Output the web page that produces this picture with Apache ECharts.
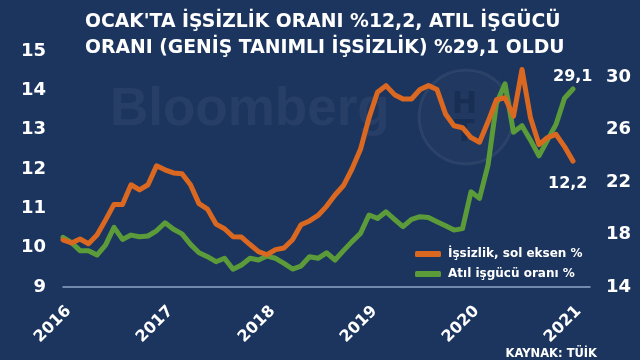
<!DOCTYPE html>
<html>
<head>
<meta charset="utf-8">
<script src="https://cdn.jsdelivr.net/npm/echarts@6/dist/echarts.min.js"></script>
<style>
html,body{margin:0;padding:0;background:#1c355e;}
#c{width:640px;height:360px;}
</style>
</head>
<body>
<div id="c"></div>
<script>
// Year tick labels
const yearLabels = ['2016', '2017', '2018', '2019', '2020', '2021'];
// Monthly categories Jan 2016 .. Mar 2021 (data ends Jan 2021)
const categories = [];
for (let y = 2016; y <= 2021; y++) {
  for (let m = 1; m <= 12; m++) {
    if (y === 2021 && m > 3) break;
    categories.push(y + '-' + (m < 10 ? '0' + m : m));
  }
}
// İşsizlik oranı (sol eksen), %
const unemployment = [
  10.2, 10.12, 10.22, 10.1, 10.32, 10.7, 11.1, 11.1, 11.6, 11.47, 11.6, 12.08,
  11.98, 11.9, 11.88, 11.6, 11.12, 10.98, 10.6, 10.48, 10.28, 10.27, 10.08, 9.9,
  9.82, 9.95, 9.99, 10.2, 10.58, 10.68, 10.82, 11.05, 11.34, 11.58, 12.0, 12.5,
  13.3, 13.95, 14.12, 13.89, 13.78, 13.78, 14.02, 14.12, 14.02, 13.4, 13.1, 13.05,
  12.8, 12.68, 13.2, 13.76, 13.81, 13.34, 14.53, 13.3, 12.62, 12.8, 12.88, 12.57,
  12.2
];
// Atıl işgücü oranı (sağ eksen), %
const underutilization = [
  17.79, 17.38, 16.77, 16.77, 16.44, 17.2, 18.55, 17.63, 17.96, 17.83, 17.89, 18.29,
  18.9, 18.4, 18.05, 17.25, 16.61, 16.31, 15.93, 16.19, 15.35, 15.68, 16.19, 16.06,
  16.36, 16.19, 15.8, 15.37, 15.6, 16.31, 16.19, 16.61, 16.06, 16.77, 17.46, 18.09,
  19.49, 19.23, 19.74, 19.16, 18.6, 19.16, 19.36, 19.3, 18.98, 18.67, 18.34, 18.45,
  21.26, 20.76, 23.3, 28.0, 29.5, 25.8, 26.3, 25.2, 24.0, 25.2, 26.4, 28.4,
  29.1
];
const seriesNames = ['İşsizlik, sol eksen %', 'Atıl işgücü oranı %'];

const FONT = 'DejaVu Sans';
const ORANGE = '#da6820';
const GREEN = '#5c9b39';

const endLabelStyle = {
  show: true,
  formatter: p => String(p.value).replace('.', ','),
  color: '#fff', fontFamily: FONT, fontWeight: 'bold', fontSize: 16
};

const chart = echarts.init(document.getElementById('c'), null, { renderer: 'canvas' });
chart.setOption({
  backgroundColor: '#1c355e',
  animation: false,
  title: {
    text: "OCAK'TA İŞSİZLİK ORANI %12,2, ATIL İŞGÜCÜ\nORANI (GENİŞ TANIMLI İŞSİZLİK) %29,1 OLDU",
    left: 80, top: 4,
    textStyle: { color: '#fff', fontFamily: FONT, fontWeight: 'bold', fontSize: 18.8, lineHeight: 26 }
  },
  graphic: [
    { type: 'text', left: 110, top: 84, z: 0, silent: true,
      style: { text: 'Bloomberg', fill: 'rgba(255,255,255,0.05)', font: 'bold 53px "Liberation Sans"' } },
    { type: 'circle', shape: { cx: 466, cy: 117, r: 47 }, z: 0, silent: true,
      style: { fill: 'rgba(255,255,255,0.025)', stroke: 'rgba(255,255,255,0.06)', lineWidth: 3 } },
    { type: 'text', left: 452, top: 90, z: 0, silent: true,
      style: { text: 'H', fill: 'rgba(10,25,55,0.35)', font: 'bold 30px "DejaVu Sans"' } },
    { type: 'text', left: 454, top: 118, z: 0, silent: true,
      style: { text: 'T', fill: 'rgba(10,25,55,0.35)', font: 'bold 30px "DejaVu Sans"' } },
    { type: 'text', right: 43, bottom: 0, z: 5,
      style: { text: 'KAYNAK: TÜİK', fill: '#fff', font: 'bold 11.5px "DejaVu Sans"' } }
  ],
  legend: {
    orient: 'vertical', left: 410, top: 243, itemWidth: 26, itemHeight: 6, itemGap: 8,
    icon: 'roundRect',
    data: seriesNames,
    textStyle: { color: '#fff', fontFamily: FONT, fontWeight: 'bold', fontSize: 12, padding: [0, 0, 0, 2] }
  },
  grid: { left: 63, right: 50, top: 51, bottom: 73 },
  xAxis: {
    type: 'category', data: categories, boundaryGap: false,
    axisLine: { show: true, lineStyle: { color: '#8fa6c8', width: 1.5 } },
    axisTick: { show: false },
    splitLine: { show: false },
    axisLabel: {
      interval: (idx) => idx % 12 === 0,
      formatter: (v) => { const y = v.slice(0, 4); return yearLabels.indexOf(y) >= 0 ? y : ''; },
      rotate: 45, margin: 16, verticalAlign: 'top',
      color: '#fff', fontFamily: FONT, fontWeight: 'bold', fontSize: 16
    }
  },
  yAxis: [
    {
      type: 'value', min: 9, max: 15, interval: 1, position: 'left',
      axisLine: { show: false }, axisTick: { show: false }, splitLine: { show: false },
      axisLabel: { margin: 17, color: '#fff', fontFamily: FONT, fontWeight: 'bold', fontSize: 18 }
    },
    {
      type: 'value', min: 14, max: 32, interval: 2, position: 'right',
      axisLine: { show: false }, axisTick: { show: false }, splitLine: { show: false },
      axisLabel: {
        margin: 16, color: '#fff', fontFamily: FONT, fontWeight: 'bold', fontSize: 18,
        formatter: (v) => ((v - 14) % 4 === 0 && v <= 30) ? String(v) : ''
      }
    }
  ],
  series: [
    {
      name: seriesNames[0], type: 'line', yAxisIndex: 0, z: 3,
      data: unemployment,
      showSymbol: false, symbol: 'none',
      lineStyle: { color: ORANGE, width: 5, join: 'round', cap: 'round' },
      itemStyle: { color: ORANGE },
      endLabel: Object.assign({}, endLabelStyle, { offset: [-33, 23] })
    },
    {
      name: seriesNames[1], type: 'line', yAxisIndex: 1, z: 2,
      data: underutilization,
      showSymbol: false, symbol: 'none',
      lineStyle: { color: GREEN, width: 5, join: 'round', cap: 'round' },
      itemStyle: { color: GREEN },
      endLabel: Object.assign({}, endLabelStyle, { offset: [-28, -12] })
    }
  ]
});
</script>
</body>
</html>
